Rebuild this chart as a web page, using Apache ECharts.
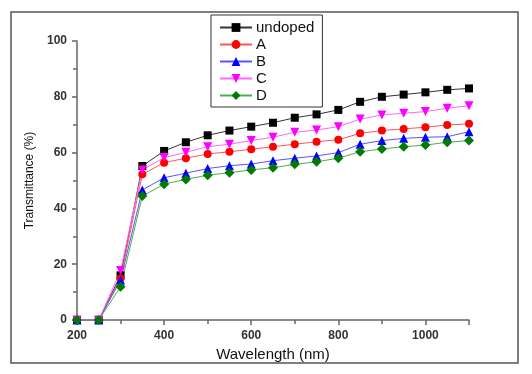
<!DOCTYPE html>
<html>
<head>
<meta charset="utf-8">
<script src="https://cdn.jsdelivr.net/npm/echarts@6/dist/echarts.min.js"></script>
<style>
  html, body { margin: 0; padding: 0; background: #fff; }
  #chart { width: 532px; height: 374px; }
</style>
</head>
<body>
<div id="chart"></div>
<script>
// wavelength (nm)
const wavelength = [200, 250, 300, 350, 400, 450, 500, 550, 600, 650, 700, 750, 800, 850, 900, 950, 1000, 1050, 1100];

// transmittance (%)
const undoped = [0, 0, 16, 55.2, 60.6, 63.7, 66.2, 67.9, 69.3, 70.7, 72.5, 73.7, 75.3, 78.2, 80.0, 80.8, 81.6, 82.5, 83.0];
const sampleA = [0, 0, 15, 52.2, 56.4, 58.0, 59.5, 60.3, 61.2, 62.1, 63.0, 63.9, 64.6, 66.9, 67.9, 68.5, 69.1, 69.9, 70.3];
const sampleB = [0, 0, 14.3, 46.6, 51.0, 52.6, 54.3, 55.3, 55.9, 57.1, 58.0, 58.8, 60.0, 63.0, 64.3, 65.1, 65.5, 65.7, 67.5];
const sampleC = [0, 0, 17.7, 53.8, 58.2, 60.1, 62.1, 63.0, 64.3, 65.5, 67.3, 68.1, 69.3, 72.0, 73.5, 74.1, 74.7, 75.9, 76.8];
const sampleD = [0, 0, 11.9, 44.4, 48.7, 50.4, 51.9, 52.8, 53.8, 54.6, 55.8, 56.7, 58.0, 60.3, 61.3, 62.1, 62.7, 63.7, 64.3];

const myChart = echarts.init(document.getElementById('chart'));

function pairs(values) {
  return wavelength.map((w, i) => [w, values[i]]);
}

function makeSeries(name, values, symbol, color, lineColor, size, rotate) {
  return {
    name: name,
    type: 'line',
    data: pairs(values),
    symbol: symbol,
    symbolSize: size,
    symbolRotate: rotate || 0,
    showAllSymbol: true,
    animation: false,
    itemStyle: { color: color },
    lineStyle: { color: lineColor, width: 1 }
  };
}

const axisGray = '#666';

const option = {
  backgroundColor: '#fff',
  textStyle: { fontFamily: 'Liberation Sans, Arial, sans-serif' },
  graphic: [{
    type: 'rect',
    shape: { x: 11, y: 12, width: 507, height: 351 },
    style: { fill: 'none', stroke: '#555', lineWidth: 1.5 },
    z: -1
  }],
  legend: {
    orient: 'vertical',
    left: 211,
    top: 15,
    padding: [5, 8, 4, 8],
    itemGap: 2,
    itemWidth: 32,
    itemHeight: 11,
    borderColor: '#333',
    borderWidth: 1,
    textStyle: { fontSize: 15, color: '#111', padding: [0, 0, 0, -1] },
    data: ['undoped', 'A', 'B', 'C', 'D']
  },
  grid: { left: 77, right: 63, top: 41, bottom: 54 },
  xAxis: {
    type: 'value',
    min: 200,
    max: 1100,
    interval: 200,
    name: 'Wavelength (nm)',
    nameLocation: 'middle',
    nameGap: 27,
    nameTextStyle: { fontSize: 15, color: '#111' },
    axisLine: { lineStyle: { color: axisGray, width: 1.5 } },
    axisTick: { length: 5, lineStyle: { color: axisGray, width: 1.5 } },
    minorTick: { show: true, splitNumber: 2, length: 4, lineStyle: { color: axisGray, width: 1.5 } },
    axisLabel: {
      fontSize: 12, fontWeight: 'bold', color: '#333', margin: 10, showMaxLabel: false,
      formatter: v => String(v)
    },
    splitLine: { show: false }
  },
  yAxis: {
    type: 'value',
    min: 0,
    max: 100,
    interval: 20,
    name: 'Transmittance (%)',
    nameLocation: 'middle',
    nameGap: 41,
    nameTextStyle: { fontSize: 12, color: '#111' },
    axisLine: { show: true, lineStyle: { color: axisGray, width: 1.5 } },
    axisTick: { show: true, length: 5, lineStyle: { color: axisGray, width: 1.5 } },
    minorTick: { show: true, splitNumber: 2, length: 4, lineStyle: { color: axisGray, width: 1.5 } },
    axisLabel: { fontSize: 12, fontWeight: 'bold', color: '#333', margin: 10 },
    splitLine: { show: false }
  },
  series: [
    makeSeries('undoped', undoped, 'rect', '#000', '#333', 8),
    makeSeries('A', sampleA, 'circle', '#ff0000', '#ff5555', 8),
    makeSeries('B', sampleB, 'triangle', '#0000ff', '#5555ff', 9),
    makeSeries('C', sampleC, 'triangle', '#ff00ff', '#ff66ff', 9, 180),
    makeSeries('D', sampleD, 'diamond', '#007a00', '#4caf4c', 10)
  ]
};

option && myChart.setOption(option);
</script>
</body>
</html>
